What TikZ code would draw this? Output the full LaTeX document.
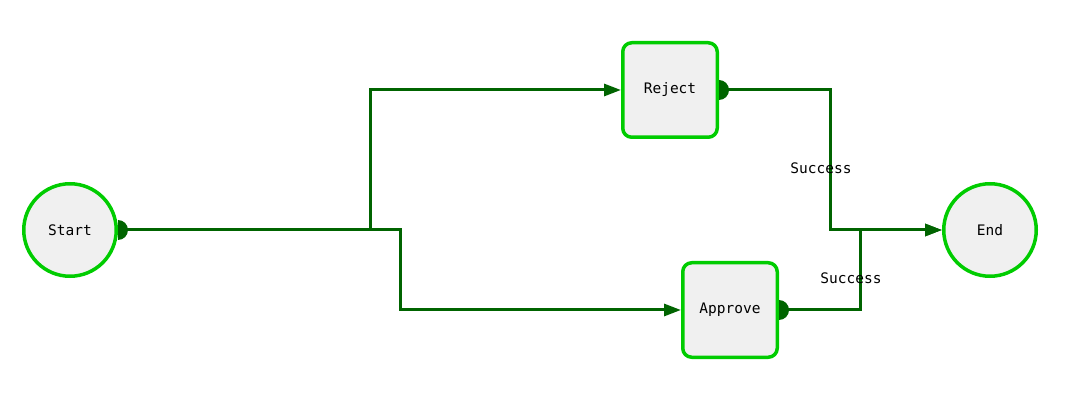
\documentclass[tikz,border=0pt]{standalone}
\usepackage{fontspec}
\setmonofont{DejaVu Sans Mono}
\usetikzlibrary{arrows.meta}
\definecolor{nodeedge}{HTML}{00CC00}
\definecolor{nodefill}{HTML}{F0F0F0}
\definecolor{wire}{HTML}{006400}
\tikzset{
  x=1pt, y=1pt,
  base/.style={draw=nodeedge, fill=nodefill, line width=3.5pt, inner sep=0pt,
    font=\ttfamily\fontsize{14.5}{17}\selectfont, text=black},
  endpoint/.style={base, circle, minimum size=92.5pt},
  task/.style={base, rectangle, rounded corners=9pt, minimum width=94.5pt, minimum height=94.5pt},
  wire/.style={draw=wire, line width=3pt, -{Triangle[length=17pt,width=12pt]}},
  tail/.style={fill=wire},
  tag/.style={font=\ttfamily\fontsize{14.5}{17}\selectfont, text=black, inner sep=1pt}
}
\begin{document}
\begin{tikzpicture}
\useasboundingbox (0,0) rectangle (1090,410);

% nodes
\node[endpoint] (start)   at (70,180)  {Start};
\node[endpoint] (end)     at (990,180) {End};
\node[task]     (reject)  at (670,320) {Reject};
\node[task]     (approve) at (730,100) {Approve};

% connectors
\draw[wire] (start.east) -- ++(252,0) |- (reject.west);
\draw[wire] (start.east) -- ++(282,0) |- (approve.west);
\draw[wire] (reject.east) -- ++(111,0) |- (end.west);
\draw[wire] (approve.east) -- ++(81,0) |- (end.west);

% half-disc tails at the sources
\foreach \n in {start, reject, approve}
  \fill[tail] (\n.east) ++(0,-10) arc[start angle=-90, end angle=90, radius=10] -- cycle;

% edge labels
\node[tag] (lblreject)  at (821,242) {Success};
\node[tag] (lblapprove) at (851,132) {Success};
\end{tikzpicture}
\end{document}
